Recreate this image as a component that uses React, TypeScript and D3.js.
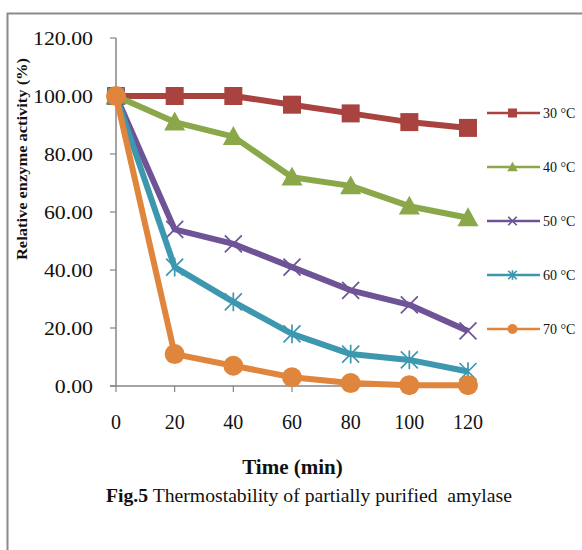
import React from "react";
import * as d3 from "d3";

const times = [0, 20, 40, 60, 80, 100, 120];
const s30 = [100, 100, 100, 97, 94, 91, 89];
const s40 = [100, 91, 86, 72, 69, 62, 58];
const s50 = [100, 54, 49, 41, 33, 28, 19];
const s60 = [100, 41, 29, 18, 11, 9, 5];
const s70 = [100, 11, 7, 3, 1, 0.3, 0.3];
const seriesNames = ["30 °C", "40 °C", "50 °C", "60 °C", "70 °C"];
const yTicks = [0, 20, 40, 60, 80, 100, 120];
const xTicks = [0, 20, 40, 60, 80, 100, 120];

const colors = ["#A8433F", "#8AA84A", "#6E5496", "#3D98AF", "#E0853C"];
const markerTypes = ["square", "triangle", "x", "star", "circle"];

function Marker({ type, x, y, color, s = 1 }: { type: string; x: number; y: number; color: string; s?: number }) {
  if (type === "square") {
    const h = 9 * s;
    return <rect x={x - h} y={y - h} width={2 * h} height={2 * h} fill={color} />;
  }
  if (type === "triangle") {
    const h = 10.5 * s;
    return <path d={`M${x},${y - h} L${x + h},${y + h * 0.8} L${x - h},${y + h * 0.8} Z`} fill={color} />;
  }
  if (type === "circle") {
    return <circle cx={x} cy={y} r={10 * s} fill={color} />;
  }
  if (type === "x") {
    const h = 8.5 * s;
    return (
      <path d={`M${x - h},${y - h} L${x + h},${y + h} M${x - h},${y + h} L${x + h},${y - h}`} stroke={color} strokeWidth={1.7} />
    );
  }
  const h = 8.5 * s;
  return (
    <path
      d={`M${x - h},${y - h} L${x + h},${y + h} M${x - h},${y + h} L${x + h},${y - h} M${x},${y - h * 1.1} L${x},${y + h * 1.1}`}
      stroke={color}
      strokeWidth={1.7}
    />
  );
}

export default function App() {
  const width = 582;
  const height = 550;
  const x = d3.scaleLinear().domain([0, 120]).range([116, 468]);
  const y = d3.scaleLinear().domain([0, 120]).range([386, 38]);
  const all = [s30, s40, s50, s60, s70];
  const line = d3
    .line<number>()
    .x((_, i) => x(times[i]))
    .y((d) => y(d));
  const axisColor = "#868686";
  const legendY = [113, 167, 221, 275, 329];

  return (
    <svg width={width} height={height} style={{ position: "absolute", left: 0, top: 0 }} fontFamily="'Liberation Serif', 'Times New Roman', serif">
      <rect x={0} y={0} width={width} height={height} fill="#fff" />
      <path d={`M7.5,${height} L7.5,13.5 L${width},13.5`} fill="none" stroke="#8a8a8a" strokeWidth={2} />
      <line x1={x(0)} x2={x(0)} y1={y(120)} y2={y(0)} stroke={axisColor} strokeWidth={1.5} />
      {yTicks.map((t) => (
        <g key={"y" + t}>
          <line x1={x(0) - 6} x2={x(0)} y1={y(t)} y2={y(t)} stroke={axisColor} strokeWidth={1.2} />
          <text transform={`translate(93,${y(t) + 6.5}) scale(1.12,1)`} textAnchor="end" fontSize={19.5} fill="#111">
            {t.toFixed(2)}
          </text>
        </g>
      ))}
      <line x1={x(0) - 6} x2={x(120)} y1={y(0)} y2={y(0)} stroke={axisColor} strokeWidth={1.5} />
      {xTicks.map((t) => (
        <g key={"x" + t}>
          <line x1={x(t)} x2={x(t)} y1={y(0)} y2={y(0) + 6} stroke={axisColor} strokeWidth={1.2} />
          <text x={x(t)} y={429} textAnchor="middle" fontSize={20} fill="#111">
            {t}
          </text>
        </g>
      ))}
      {all.map((s, i) => (
        <g key={"s" + i}>
          <path d={line(s) || ""} fill="none" stroke={colors[i]} strokeWidth={6} strokeLinejoin="round" />
          {s.map((v, j) => (
            <Marker key={j} type={markerTypes[i]} x={x(times[j])} y={y(v)} color={colors[i]} />
          ))}
        </g>
      ))}
      {seriesNames.map((n, i) => (
        <g key={"l" + i}>
          <line x1={487} x2={540} y1={legendY[i]} y2={legendY[i]} stroke={colors[i]} strokeWidth={2.5} />
          <Marker type={markerTypes[i]} x={512.5} y={legendY[i]} color={colors[i]} s={0.5} />
          <text x={543} y={legendY[i] + 5} fontSize={14} fill="#111">
            {n}
          </text>
        </g>
      ))}
      <text x={292.5} y={474} textAnchor="middle" fontSize={21} fontWeight="bold" fill="#111">
        Time (min)
      </text>
      <text
        transform={`translate(27,159) rotate(-90)`}
        textAnchor="middle"
        fontSize={15}
        fontWeight="bold"
        fill="#111"
        textLength={202}
        lengthAdjust="spacingAndGlyphs"
      >
        Relative enzyme activity (%)
      </text>
      <text x={106} y={502} fontSize={19.7} fill="#111" style={{ whiteSpace: "pre" }}>
        <tspan fontWeight="bold">Fig.5</tspan>
        <tspan>{" Thermostability of partially purified\u00a0 amylase"}</tspan>
      </text>
    </svg>
  );
}
